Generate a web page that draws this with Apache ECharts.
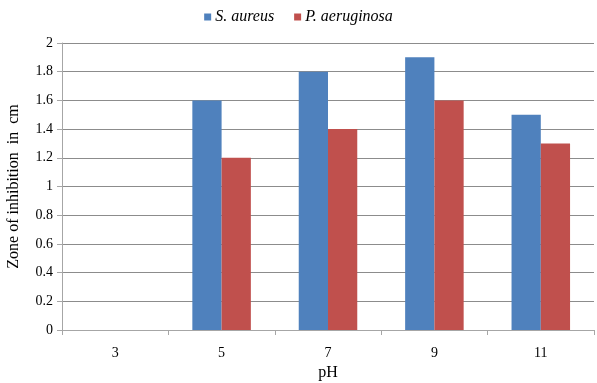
<!DOCTYPE html>
<html><head><meta charset="utf-8">
<script src="https://cdn.jsdelivr.net/npm/echarts@6/dist/echarts.min.js"></script>
<style>html,body{margin:0;padding:0;background:#fff}#c{width:597px;height:383px}</style>
</head><body><div id="c"></div>
<script>
var categories = ['3','5','7','9','11'];
var sAureus = [0, 1.6, 1.8, 1.9, 1.5];
var pAeruginosa = [0, 1.2, 1.4, 1.6, 1.3];
var seriesNames = ['S. aureus', 'P. aeruginosa'];
var font = '"Liberation Serif"';
var chart = echarts.init(document.getElementById('c'));
chart.setOption({
  animation: false,
  textStyle: {fontFamily: font},
  legend: {
    top: 4, left: 'center', itemWidth: 7, itemHeight: 7, itemGap: 20,
    icon: 'rect',
    textStyle: {fontFamily: font, fontSize: 16, fontStyle: 'italic', color: '#000', padding: [0,0,0,-1]},
    data: seriesNames
  },
  grid: {left: 62, right: 3, top: 43, bottom: 53, outerBoundsMode: 'none', containLabel: false},
  xAxis: {
    type: 'category', data: categories,
    name: 'pH', nameLocation: 'middle', nameGap: 35,
    nameTextStyle: {fontFamily: font, fontSize: 16, color: '#000'},
    axisLine: {lineStyle: {color: '#a6a6a6', width: 1}},
    axisTick: {show: true, length: 5, lineStyle: {color: '#a6a6a6'}},
    axisLabel: {fontFamily: font, fontSize: 14, color: '#000', margin: 16},
    splitLine: {show: false}
  },
  yAxis: {
    type: 'value', min: 0, max: 2, interval: 0.2,
    name: 'Zone of inhibition  in  cm', nameLocation: 'middle', nameGap: 40,
    nameTextStyle: {fontFamily: font, fontSize: 16, color: '#000'},
    axisLine: {show: true, lineStyle: {color: '#a6a6a6', width: 1}},
    axisTick: {show: true, length: 5, lineStyle: {color: '#a6a6a6'}},
    axisLabel: {fontFamily: font, fontSize: 14, color: '#000', margin: 9,
      formatter: function(v){ return String(Math.round(v*10)/10); }},
    splitLine: {show: true, lineStyle: {color: '#8c8c8c', width: 1}}
  },
  series: [
    {name: seriesNames[0], type: 'bar', data: sAureus, barGap: '0%', barCategoryGap: '45%',
     itemStyle: {color: '#4F81BD'}},
    {name: seriesNames[1], type: 'bar', data: pAeruginosa, barGap: '0%', barCategoryGap: '45%',
     itemStyle: {color: '#C0504D'}}
  ]
});
</script></body></html>
